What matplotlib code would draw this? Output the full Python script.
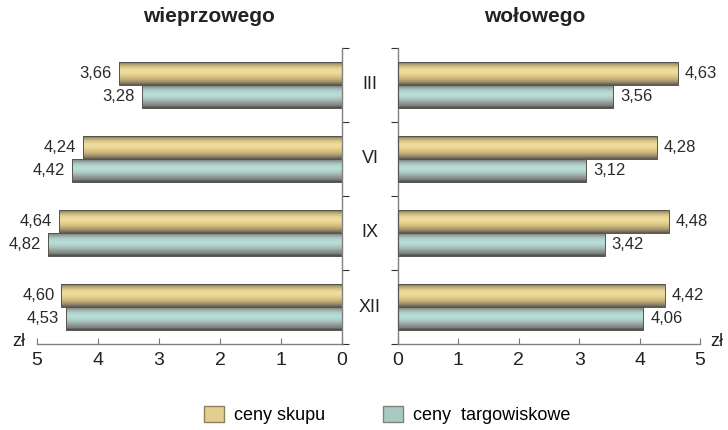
import numpy as np
import matplotlib
matplotlib.use("Agg")
from matplotlib import pyplot as plt
from matplotlib.colors import LinearSegmentedColormap
from matplotlib.patches import Patch
import matplotlib.transforms as mtransforms

plt.rcParams['font.family'] = ['Liberation Sans', 'DejaVu Sans']

months = ['III', 'VI', 'IX', 'XII']
pork_skup = [3.66, 4.24, 4.64, 4.60]
pork_targ = [3.28, 4.42, 4.82, 4.53]
beef_skup = [4.63, 4.28, 4.48, 4.42]
beef_targ = [3.56, 3.12, 3.42, 4.06]
titles = ['wieprzowego', 'wołowego']
legend_labels = ['ceny skupu', 'ceny  targowiskowe']

yellow_cm = LinearSegmentedColormap.from_list('y', ['#4e4a3e', '#a39668', '#d2bf86', '#e9d698', '#f0de9f',
                                                   '#e8d393', '#d8c283', '#bfab73', '#968a6a', '#5c5a50'])
teal_cm = LinearSegmentedColormap.from_list('t', ['#5c605c', '#8e9894', '#a8c4be', '#b6d9d3', '#b9ddd7',
                                                 '#b2d3cd', '#a3bcb7', '#939d99', '#808682', '#4a4c48'])
grad = np.linspace(0, 1, 64).reshape(-1, 1)


def gradient_bars(ax, ypos, vals, cmap):
    bars = ax.barh(ypos, vals, height=0.315, facecolor='none', edgecolor='#55554c', linewidth=0.7, zorder=3)
    for b in bars:
        x0, y0 = b.get_x(), b.get_y()
        w, h = b.get_width(), b.get_height()
        im = ax.imshow(grad, cmap=cmap, aspect='auto', origin='upper',
                       extent=(x0, x0 + w, y0 + h, y0), zorder=2)
        im.set_clip_path(b)
    return bars


def labels(ax, ypos, vals, side):
    for y, v in zip(ypos, vals):
        txt = f"{v:.2f}".replace('.', ',')
        ax.annotate(txt, (v, y), xytext=(-5 if side == 'left' else 5, 0), textcoords='offset points',
                    ha='right' if side == 'left' else 'left', va='center', fontsize=12, color='#2a2a2a')


fig = plt.figure(figsize=(7.28, 4.30), dpi=100)
ax1 = fig.add_axes([37 / 728, 86 / 430, 305 / 728, 296 / 430])
ax2 = fig.add_axes([398 / 728, 86 / 430, 302 / 728, 296 / 430])

y = np.arange(len(months))
off = 0.1575

for ax, skup, targ, side in [(ax1, pork_skup, pork_targ, 'left'), (ax2, beef_skup, beef_targ, 'right')]:
    gradient_bars(ax, y - off, skup, yellow_cm)
    gradient_bars(ax, y + off, targ, teal_cm)
    labels(ax, y - off, skup, side)
    labels(ax, y + off, targ, side)
    ax.set_ylim(3.5, -0.5)
    ax.set_yticks(np.arange(-0.5, 3.6, 1))
    ax.set_yticklabels([])
    ax.set_xticks(range(6))
    ax.tick_params(axis='x', direction='in', length=4, color='#777777', pad=6, labelsize=14, labelcolor='#222222')
    ax.tick_params(axis='y', direction='out', length=5, color='#333333', width=0.8)
    for s in ax.spines.values():
        s.set_color('#808080')
        s.set_linewidth(1.0)
    ax.spines['top'].set_visible(False)

ax1.set_xlim(5, 0)
ax1.spines['left'].set_visible(False)
ax1.yaxis.tick_right()
ax2.set_xlim(0, 5)
ax2.spines['right'].set_visible(False)

fig.text(209 / 728, 1 - 16 / 430, titles[0], ha='center', va='center', fontsize=15, fontweight='bold', color='#222222')
fig.text(535 / 728, 1 - 16 / 430, titles[1], ha='center', va='center', fontsize=15, fontweight='bold', color='#222222')

tr = mtransforms.blended_transform_factory(fig.transFigure, ax1.transData)
for i, m in enumerate(months):
    ax1.text(370 / 728, i, m, transform=tr, ha='center', va='center', fontsize=13, color='#222222')

fig.text(19 / 728, 1 - 342 / 430, 'zł', ha='center', va='center', fontsize=13, color='#222222')
fig.text(717 / 728, 1 - 342 / 430, 'zł', ha='center', va='center', fontsize=13, color='#222222')

handles = [Patch(facecolor='#e2cf8e', edgecolor='#8a8060'), Patch(facecolor='#a9c9c3', edgecolor='#7c8480')]
fig.legend(handles, legend_labels, loc='center', bbox_to_anchor=(0.532, 1 - 415 / 430), ncol=2,
           frameon=False, handlelength=1.1, handleheight=1.0, columnspacing=3.2, handletextpad=0.55,
           prop={'size': 13})

fig.savefig('out.png', dpi=100)
